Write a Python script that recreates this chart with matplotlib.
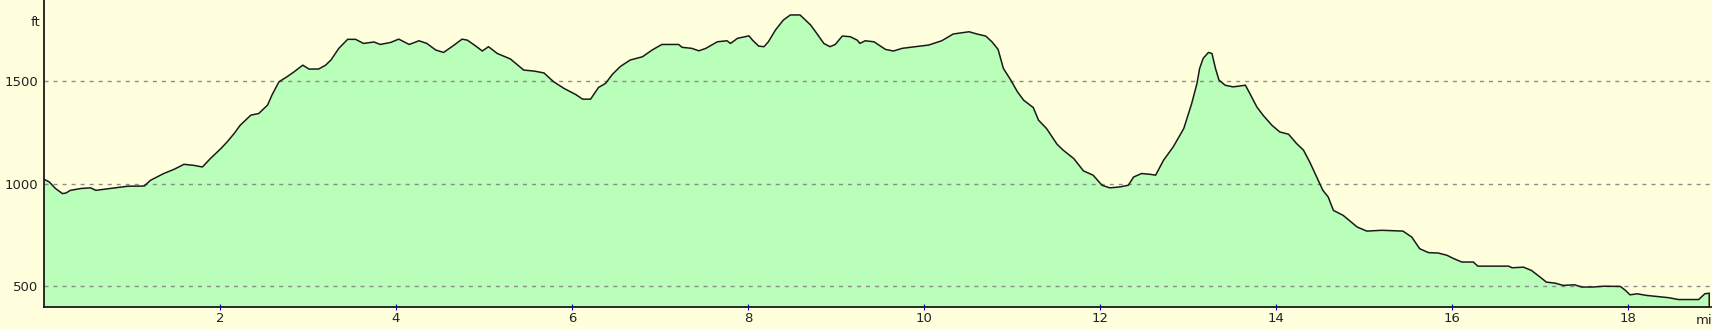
import matplotlib
matplotlib.use("Agg")
import matplotlib.pyplot as plt

# distance along route (miles) and elevation (feet)
miles = [0.0, 0.06, 0.13, 0.21, 0.25, 0.30, 0.42, 0.53, 0.59, 0.68, 0.83, 0.95, 1.14, 1.21, 1.36,
         1.48, 1.59, 1.70, 1.80, 1.89, 2.01, 2.08, 2.16, 2.23, 2.35, 2.44, 2.54, 2.59, 2.67, 2.76,
         2.84, 2.94, 3.01, 3.12, 3.20, 3.26, 3.35, 3.45, 3.54, 3.63, 3.75, 3.82, 3.94, 4.03, 4.15,
         4.26, 4.35, 4.45, 4.54, 4.66, 4.75, 4.81, 4.90, 4.98, 5.05, 5.15, 5.30, 5.45, 5.57, 5.68,
         5.79, 5.91, 6.04, 6.12, 6.21, 6.30, 6.38, 6.46, 6.55, 6.66, 6.80, 6.91, 7.02, 7.21, 7.25,
         7.36, 7.44, 7.52, 7.65, 7.76, 7.80, 7.88, 8.01, 8.05, 8.12, 8.18, 8.23, 8.31, 8.40, 8.48,
         8.59, 8.71, 8.78, 8.86, 8.93, 8.99, 9.07, 9.16, 9.24, 9.27, 9.33, 9.43, 9.56, 9.65, 9.75,
         9.84, 10.05, 10.20, 10.33, 10.51, 10.60, 10.70, 10.77, 10.84, 10.90, 10.98, 11.06, 11.13,
         11.24, 11.30, 11.39, 11.51, 11.58, 11.70, 11.81, 11.92, 12.02, 12.11, 12.23, 12.32, 12.38,
         12.47, 12.57, 12.63, 12.72, 12.83, 12.95, 13.04, 13.10, 13.13, 13.17, 13.23, 13.27, 13.31,
         13.35, 13.42, 13.51, 13.65, 13.70, 13.78, 13.85, 13.95, 14.04, 14.14, 14.23, 14.31, 14.38,
         14.46, 14.53, 14.59, 14.65, 14.76, 14.92, 15.03, 15.20, 15.44, 15.54, 15.63, 15.73, 15.84,
         15.94, 16.02, 16.11, 16.24, 16.29, 16.64, 16.68, 16.81, 16.90, 17.00, 17.07, 17.17, 17.26,
         17.39, 17.47, 17.60, 17.72, 17.91, 17.97, 18.02, 18.10, 18.21, 18.32, 18.46, 18.57, 18.80,
         18.87, 18.92]
elev_ft = [1021, 1008, 976, 951, 954, 967, 976, 979, 967, 972, 980, 987, 988, 1016, 1049,
           1070, 1094, 1089, 1081, 1122, 1171, 1203, 1244, 1285, 1334, 1342, 1383, 1432, 1497, 1521,
           1545, 1578, 1559, 1559, 1578, 1603, 1660, 1704, 1704, 1684, 1691, 1679, 1689, 1705, 1679,
           1697, 1684, 1652, 1640, 1676, 1705, 1700, 1673, 1647, 1668, 1635, 1608, 1554, 1549, 1540,
           1497, 1464, 1435, 1412, 1412, 1469, 1489, 1534, 1572, 1603, 1619, 1652, 1679, 1679, 1665,
           1660, 1648, 1660, 1692, 1697, 1684, 1709, 1721, 1700, 1671, 1668, 1692, 1749, 1798, 1823,
           1823, 1774, 1733, 1684, 1668, 1679, 1720, 1717, 1700, 1684, 1697, 1692, 1655, 1647, 1660,
           1665, 1676, 1697, 1730, 1741, 1730, 1720, 1692, 1655, 1562, 1508, 1448, 1407,
           1371, 1309, 1269, 1192, 1163, 1122, 1062, 1041, 992, 979, 984, 992, 1032,
           1049, 1045, 1041, 1114, 1179, 1269, 1391, 1489, 1562, 1611, 1640, 1635, 1562,
           1505, 1480, 1472, 1480, 1440, 1374, 1334, 1285, 1252, 1241, 1196, 1163, 1106,
           1032, 967, 935, 869, 845, 788, 768, 772, 768, 739, 682, 663, 661,
           650, 633, 617, 617, 597, 597, 589, 592, 576, 543, 519, 514, 503,
           506, 495, 495, 499, 498, 478, 457, 462, 454, 449, 443, 434, 434,
           462, 465]

x_ticks = [2, 4, 6, 8, 10, 12, 14, 16, 18]
x_tick_labels = ["2", "4", "6", "8", "10", "12", "14", "16", "18"]
y_ticks = [500, 1000, 1500]
y_tick_labels = ["500", "1000", "1500"]
y_unit = "ft"
x_unit = "mi"

BG = "#FFFFDD"
FILL = "#B9FFB9"

plt.rcParams["font.family"] = ["DejaVu Sans"]

W, H, DPI = 1712, 329, 100
fig = plt.figure(figsize=(W / DPI, H / DPI), dpi=DPI, facecolor=BG)
ax = fig.add_axes([44 / W, (H - 306.5) / H, (1711 - 44) / W, 306.5 / H])
ax.set_facecolor(BG)

y0, y1 = 400, 1896
ax.fill_between(miles, elev_ft, y0, color=FILL, linewidth=0, zorder=1)
ax.plot(miles + [miles[-1]], elev_ft + [y0], color="#1a1a1a", linewidth=1.1, zorder=3)

ax.set_xlim(0, 18.94)
ax.set_ylim(y0, y1)

for v in y_ticks:
    ax.axhline(v, color="#8c8c8c", linewidth=1.0, dashes=(2.9, 3.6), zorder=2.5)

ax.set_yticks(y_ticks)
ax.set_yticklabels(y_tick_labels)
ax.set_xticks(x_ticks)
ax.set_xticklabels(x_tick_labels)
ax.tick_params(axis="y", length=0, pad=4, labelsize=9.5, labelcolor="#222222")
ax.tick_params(axis="x", direction="inout", length=4.5, width=0.8, color="#0000FF",
               pad=1.5, labelsize=9.5, labelcolor="#222222")

for s in ["top", "right"]:
    ax.spines[s].set_visible(False)
for s in ["left", "bottom"]:
    ax.spines[s].set_color("#1a1a1a")
    ax.spines[s].set_linewidth(1.3)
    ax.spines[s].set_zorder(4)

fig.text(36 / W, 1 - 22 / H, y_unit, ha="center", va="center", fontsize=9.5, color="#222222")
fig.text(1704 / W, 1 - 320 / H, x_unit, ha="center", va="center", fontsize=9.5, color="#222222")

fig.savefig("out.png", dpi=DPI, facecolor=BG)
